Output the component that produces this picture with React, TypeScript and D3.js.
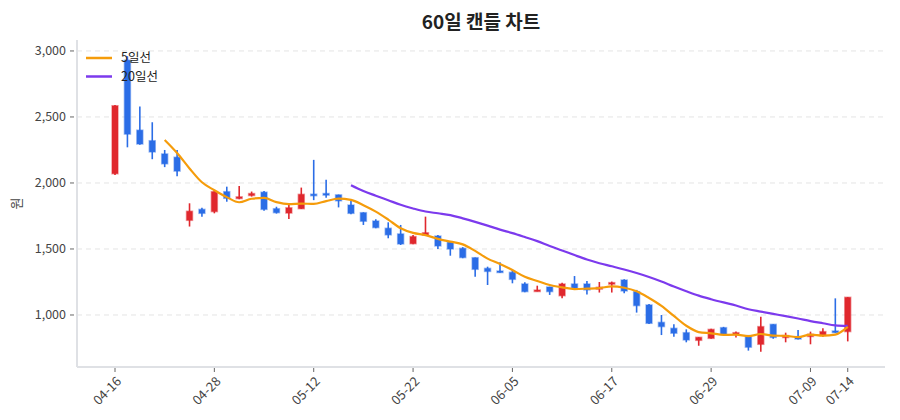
import React from 'react';
import * as d3 from 'd3';

// 60 trading days, MM-DD
const dates = [
    '04-16', '04-17', '04-20', '04-21', '04-22', '04-23', '04-24', '04-27', '04-28', '04-29',
    '04-30', '05-04', '05-06', '05-07', '05-08', '05-11', '05-12', '05-13', '05-14', '05-15',
    '05-18', '05-19', '05-20', '05-21', '05-22', '05-25', '05-26', '05-27', '05-28', '05-29',
    '06-01', '06-02', '06-05', '06-08', '06-09', '06-10', '06-11', '06-12', '06-15', '06-16',
    '06-17', '06-18', '06-19', '06-22', '06-23', '06-24', '06-25', '06-26', '06-29', '06-30',
    '07-01', '07-02', '07-03', '07-06', '07-07', '07-08', '07-09', '07-10', '07-13', '07-14',
];

const openValues = [
    2070, 2930, 2400, 2320, 2220, 2195, 1717, 1800, 1783, 1934,
    1882, 1905, 1930, 1805, 1772, 1805, 1915, 1920, 1910, 1833,
    1775, 1712, 1657, 1614, 1540, 1605, 1598, 1551, 1505, 1434,
    1353, 1333, 1323, 1235, 1180, 1212, 1146, 1235, 1235, 1196,
    1236, 1265, 1177, 1076, 944, 899, 866, 808, 823, 904,
    855, 836, 778, 929, 829, 836, 837, 845, 879, 874,
];
const highValues = [
    2590, 2960, 2580, 2460, 2250, 2250, 1846, 1813, 1940, 1972,
    1977, 1935, 1940, 1820, 1846, 1965, 2175, 2025, 1912, 1864,
    1778, 1725, 1702, 1682, 1606, 1745, 1606, 1553, 1514, 1436,
    1366, 1400, 1340, 1248, 1222, 1214, 1245, 1295, 1258, 1250,
    1253, 1270, 1190, 1083, 1000, 930, 891, 833, 895, 910,
    874, 849, 987, 930, 866, 886, 874, 899, 1126, 1136,
];
const lowValues = [
    2060, 2270, 2290, 2180, 2120, 2050, 1670, 1745, 1770, 1858,
    1877, 1897, 1790, 1768, 1728, 1803, 1870, 1888, 1815, 1763,
    1682, 1657, 1581, 1530, 1536, 1603, 1500, 1449, 1430, 1290,
    1227, 1320, 1240, 1172, 1179, 1152, 1126, 1203, 1155, 1170,
    1170, 1165, 1018, 932, 848, 836, 793, 767, 820, 850,
    829, 730, 722, 820, 793, 815, 778, 836, 865, 800,
];
const closeValues = [
    2585, 2370, 2295, 2235, 2145, 2090, 1786, 1770, 1934, 1884,
    1895, 1920, 1800, 1775, 1812, 1914, 1905, 1908, 1865, 1770,
    1710, 1662, 1607, 1538, 1594, 1623, 1523, 1500, 1435, 1346,
    1330, 1322, 1270, 1177, 1189, 1177, 1235, 1205, 1190, 1210,
    1245, 1182, 1071, 937, 912, 862, 811, 831, 891, 854,
    866, 756, 912, 830, 844, 818, 854, 874, 867, 1134,
];

const xTickIndices = [0, 8, 16, 24, 32, 40, 48, 56, 59];
const yTicks = [1000, 1500, 2000, 2500, 3000];

const UP_COLOR = '#e0282e';
const DOWN_COLOR = '#2b6de6';
const MA5_COLOR = '#f59c0b';
const MA20_COLOR = '#7c3aed';
const FONT = "'Noto Sans CJK KR', 'Noto Sans', sans-serif";

const WIDTH = 900;
const HEIGHT = 420;
const plot = { left: 77, right: 885, top: 40, bottom: 367 };

function movingAverage(values: number[], n: number)
{
    return values.map((_, i) => (i < n - 1 ? null : d3.mean(values.slice(i - n + 1, i + 1)) as number));
}

export default function App()
{
    const x = d3.scaleLinear().domain([-3.06, 62]).range([plot.left, plot.right]);
    const y = d3.scaleLinear().domain([606, 3083]).range([plot.bottom, plot.top]);

    const ma5 = movingAverage(closeValues, 5);
    const ma20 = movingAverage(closeValues, 20);

    const line = d3.line<number | null>()
        .defined((d) => d !== null)
        .x((_, i) => x(i))
        .y((d) => y(d as number))
        .curve(d3.curveMonotoneX);

    const bodyWidth = 6;

    return (
        <div style={ { position: 'absolute', left: 0, top: 0 } }>
            <svg width={ WIDTH } height={ HEIGHT } style={ { display: 'block', background: '#fff' } } fontFamily={ FONT }>
                <text x={ 481 } y={ 29 } textAnchor="middle" fontSize={ 19 } fontWeight={ 700 } fill="#222">60일 캔들 차트</text>

                {/* grid */}
                { yTicks.map((t) => (
                    <line key={ t } x1={ plot.left } x2={ plot.right } y1={ y(t) } y2={ y(t) }
                        stroke="#e4e4e4" strokeDasharray="5,4" strokeWidth={ 1 } />
                )) }

                {/* axes */}
                <line x1={ plot.left } x2={ plot.left } y1={ plot.top } y2={ plot.bottom } stroke="#dfe1e5" strokeWidth={ 2 } />
                <line x1={ plot.left } x2={ plot.right } y1={ plot.bottom } y2={ plot.bottom } stroke="#dfe1e5" strokeWidth={ 2 } />

                { yTicks.map((t) => (
                    <g key={ t }>
                        <line x1={ 70 } x2={ 74 } y1={ y(t) } y2={ y(t) } stroke="#666" strokeWidth={ 1 } />
                        <text x={ 66 } y={ y(t) } dy="0.35em" textAnchor="end" fontSize={ 12.5 } fill="#444">
                            { d3.format(',')(t) }
                        </text>
                    </g>
                )) }
                <text transform={ `translate(21,${ (plot.top + plot.bottom) / 2 }) rotate(-90)` } textAnchor="middle"
                    fontSize={ 13 } fill="#444">원</text>

                { xTickIndices.map((i) => (
                    <g key={ i }>
                        <line x1={ x(i) } x2={ x(i) } y1={ plot.bottom + 1 } y2={ plot.bottom + 5 } stroke="#666" strokeWidth={ 1 } />
                        <text transform={ `translate(${ x(i) + 4 },${ plot.bottom + 12 }) rotate(-45)` } textAnchor="end"
                            dy="0.35em" fontSize={ 13 } fill="#444">{ dates[i] }</text>
                    </g>
                )) }

                {/* candles */}
                { dates.map((d, i) =>
                {
                    const o = openValues[i];
                    const c = closeValues[i];
                    const color = c >= o ? UP_COLOR : DOWN_COLOR;
                    const top = y(Math.max(o, c));
                    const bot = y(Math.min(o, c));
                    return (
                        <g key={ d }>
                            <line x1={ x(i) } x2={ x(i) } y1={ y(highValues[i]) } y2={ y(lowValues[i]) } stroke={ color } strokeWidth={ 1.6 } />
                            <rect x={ x(i) - bodyWidth / 2 } y={ top } width={ bodyWidth } height={ Math.max(1.5, bot - top) }
                                fill={ color } stroke={ color } strokeOpacity={ 0.45 } strokeWidth={ 1.5 } />
                        </g>
                    );
                }) }

                {/* moving averages */}
                <path d={ line(ma20) || '' } fill="none" stroke={ MA20_COLOR } strokeWidth={ 2.2 } />
                <path d={ line(ma5) || '' } fill="none" stroke={ MA5_COLOR } strokeWidth={ 2.2 } />

                {/* legend */}
                <line x1={ 86 } x2={ 112 } y1={ 58 } y2={ 58 } stroke={ MA5_COLOR } strokeWidth={ 2.5 } />
                <text x={ 121 } y={ 58 } dy="0.35em" fontSize={ 12.5 } fill="#222">5일선</text>
                <line x1={ 86 } x2={ 112 } y1={ 76.5 } y2={ 76.5 } stroke={ MA20_COLOR } strokeWidth={ 2.5 } />
                <text x={ 121 } y={ 76.5 } dy="0.35em" fontSize={ 12.5 } fill="#222">20일선</text>
            </svg>
        </div>
    );
}
